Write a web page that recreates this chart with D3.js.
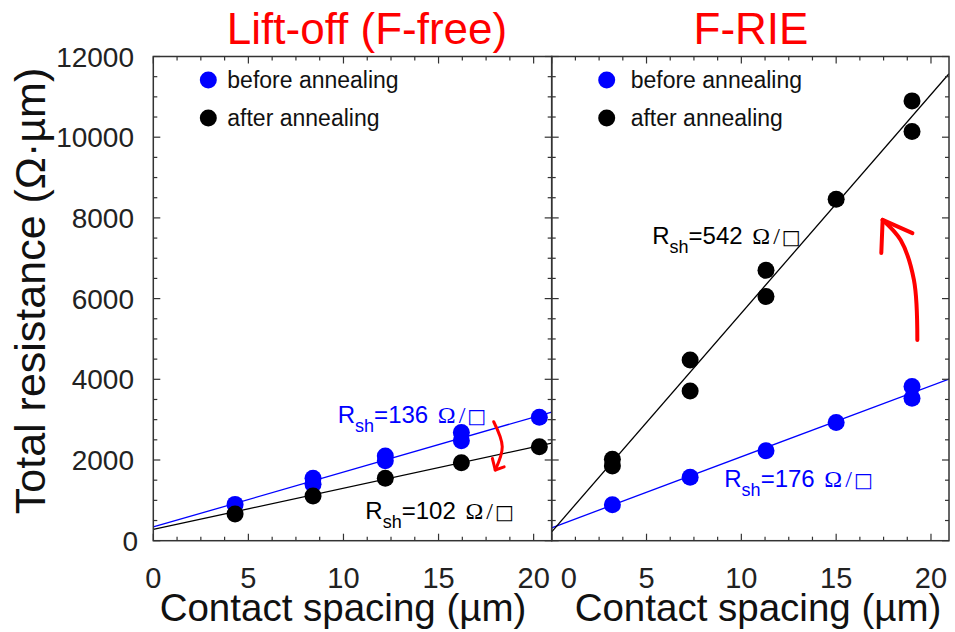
<!DOCTYPE html>
<html>
<head>
<meta charset="utf-8">
<script src="https://cdn.jsdelivr.net/npm/d3@7"></script>
<style>
  body { margin: 0; background: #fff; }
  svg { display: block; }
</style>
</head>
<body>
<svg id="chart" width="955" height="632"></svg>
<script>
// ---- Lift-off (F-free) TLM data: total resistance vs contact spacing ----
const liftBeforeSpacing = [4.3, 8.4, 8.4, 12.2, 12.2, 16.2, 16.2, 20.3];
const liftBeforeR       = [900, 1550, 1400, 2100, 1980, 2680, 2480, 3060];
const liftAfterSpacing  = [4.3, 8.4, 12.2, 16.2, 20.3];
const liftAfterR        = [660, 1110, 1550, 1930, 2330];

// ---- F-RIE TLM data ----
const rieBeforeSpacing = [3.2, 7.3, 11.3, 15.0, 19.0, 19.0];
const rieBeforeR       = [890, 1570, 2230, 2930, 3820, 3530];
const rieAfterSpacing  = [3.2, 3.2, 7.3, 7.3, 11.3, 11.3, 15.0, 19.0, 19.0];
const rieAfterR        = [2020, 1850, 4480, 3710, 6700, 6050, 8460, 10900, 10140];

// Linear fits: slope = sheet resistance (ohm/sq), intercept = 2Rc (ohm·um)
const liftSlopes     = [136, 102];
const liftIntercepts = [340, 280];
const rieSlopes      = [176, 542];
const rieIntercepts  = [320, 220];

// Axis ticks
const xMajorTicks = [0, 5, 10, 15, 20];
const yMajorTicks = [0, 2000, 4000, 6000, 8000, 10000, 12000];

const panelTitles = ["Lift-off (F-free)", "F-RIE"];
const legendLabels = ["before annealing", "after annealing"];

const BLUE = "#0000ff", BLACK = "#000000", RED = "#ff0000", FRAME = "#333333";
const FONT = "'Liberation Sans', Arial, sans-serif";

const svg = d3.select("#chart");
const plotTop = 56.5, plotBottom = 540.7;
const xMax = 20.95;
const y = d3.scaleLinear().domain([0, 12000]).range([plotBottom, plotTop]);

const panels = [
  {
    left: 153.3, right: 551.7, title: panelTitles[0], titleX: 367, xTitleX: 343,
    before: { xs: liftBeforeSpacing, ys: liftBeforeR },
    after:  { xs: liftAfterSpacing,  ys: liftAfterR },
    fits: [
      { m: liftSlopes[0], b: liftIntercepts[0], color: BLUE },
      { m: liftSlopes[1], b: liftIntercepts[1], color: BLACK }
    ],
    notes: [
      { x: 9.7, v: 2917, rsh: liftSlopes[0], color: BLUE },
      { x: 11.15, v: 530, rsh: liftSlopes[1], color: BLACK }
    ],
    arrow: { path: [[17.9, 2949], [18.35, 2330], [17.98, 1752]],
             head: [[17.83, 2040], [18.45, 1830]] },
    legendDot: 55, legendText: 74, yLabels: true, zeroShift: 0
  },
  {
    left: 551.7, right: 949, title: panelTitles[1], titleX: 751, xTitleX: 758,
    before: { xs: rieBeforeSpacing, ys: rieBeforeR },
    after:  { xs: rieAfterSpacing,  ys: rieAfterR },
    fits: [
      { m: rieSlopes[0], b: rieIntercepts[0], color: BLUE },
      { m: rieSlopes[1], b: rieIntercepts[1], color: BLACK }
    ],
    notes: [
      { x: 9.1, v: 1338, rsh: rieSlopes[0], color: BLUE },
      { x: 5.3, v: 7352, rsh: rieSlopes[1], color: BLACK }
    ],
    arrow: { path: [[19.28, 4974], [19.1, 6461], [18.4, 7450], [17.45, 7950]],
             head: [[19.02, 7621], [17.38, 7131]] },
    legendDot: 55, legendText: 79, yLabels: false, zeroShift: 17
  }
];

panels.forEach((p, i) => {
  const x = d3.scaleLinear().domain([0, xMax]).range([p.left, p.right]);
  const g = svg.append("g");
  const clipId = "clip" + i;
  svg.append("clipPath").attr("id", clipId)
    .append("rect").attr("x", p.left).attr("y", plotTop)
    .attr("width", p.right - p.left).attr("height", plotBottom - plotTop);

  // Fit lines
  const plot = g.append("g").attr("clip-path", `url(#${clipId})`);
  p.fits.forEach(f => {
    const line = d3.line().x(d => x(d)).y(d => y(f.m * d + f.b));
    plot.append("path").datum([0, xMax]).attr("d", line)
      .attr("fill", "none").attr("stroke", f.color).attr("stroke-width", 1.3);
  });

  // Data points
  const drawPoints = (set, color) => {
    plot.selectAll(null).data(d3.range(set.xs.length)).join("circle")
      .attr("cx", k => x(set.xs[k])).attr("cy", k => y(set.ys[k]))
      .attr("r", 8.5).attr("fill", color);
  };
  drawPoints(p.before, BLUE);
  drawPoints(p.after, BLACK);

  // Frame
  g.append("rect").attr("x", p.left).attr("y", plotTop)
    .attr("width", p.right - p.left).attr("height", plotBottom - plotTop)
    .attr("fill", "none").attr("stroke", FRAME).attr("stroke-width", 1.5);

  // Inward ticks on all four sides
  const xMinor = d3.range(0, xMax, 1.25);
  const yMinor = d3.range(0, 12001, 500);
  const tk = g.append("g").attr("stroke", FRAME).attr("stroke-width", 1.2);
  xMinor.forEach(v => {
    const len = (v % 5 === 0) ? 7 : 4;
    tk.append("line").attr("x1", x(v)).attr("x2", x(v)).attr("y1", plotBottom).attr("y2", plotBottom - len);
    tk.append("line").attr("x1", x(v)).attr("x2", x(v)).attr("y1", plotTop).attr("y2", plotTop + len);
  });
  yMinor.forEach(v => {
    const len = (v % 2000 === 0) ? 7 : 4;
    tk.append("line").attr("x1", p.left).attr("x2", p.left + len).attr("y1", y(v)).attr("y2", y(v));
    tk.append("line").attr("x1", p.right).attr("x2", p.right - len).attr("y1", y(v)).attr("y2", y(v));
  });

  // X tick labels
  g.selectAll(null).data(xMajorTicks).join("text")
    .attr("x", d => x(d) + (d === 0 ? p.zeroShift : 0))
    .attr("y", 588)
    .attr("text-anchor", "middle")
    .attr("font-family", FONT).attr("font-size", 29).attr("fill", "#222")
    .text(d => d);

  // Y tick labels (left panel only)
  if (p.yLabels) {
    g.selectAll(null).data(yMajorTicks).join("text")
      .attr("x", d => d === 0 ? 138 : 134).attr("y", d => y(d) + 10)
      .attr("text-anchor", "end")
      .attr("font-family", FONT).attr("font-size", 28).attr("fill", "#222")
      .text(d => d);
  }

  // X axis title
  g.append("text").attr("x", p.xTitleX).attr("y", 621)
    .attr("text-anchor", "middle").attr("font-family", FONT)
    .attr("font-size", 38.5).attr("fill", "#111")
    .text("Contact spacing (µm)");

  // Panel title
  g.append("text").attr("x", p.titleX).attr("y", 44)
    .attr("text-anchor", "middle").attr("font-family", FONT)
    .attr("font-size", 44).attr("fill", RED)
    .text(p.title);

  // Legend
  [BLUE, BLACK].forEach((c, k) => {
    const cy = 80 + k * 38;
    g.append("circle").attr("cx", p.left + p.legendDot).attr("cy", cy)
      .attr("r", 8.5).attr("fill", c);
    g.append("text").attr("x", p.left + p.legendText).attr("y", cy + 8)
      .attr("font-family", FONT).attr("font-size", 23).attr("fill", "#111")
      .text(legendLabels[k]);
  });

  // Sheet resistance annotations
  p.notes.forEach(n => {
    const t = g.append("text").attr("x", x(n.x)).attr("y", y(n.v))
      .attr("font-family", FONT).attr("font-size", 24).attr("fill", n.color);
    t.append("tspan").text("R");
    t.append("tspan").attr("font-size", 18).attr("dy", 9).text("sh");
    t.append("tspan").attr("dy", -9).text("=" + n.rsh + "\u00a0");
    t.append("tspan").attr("font-family", "'Liberation Serif', 'Times New Roman', serif").attr("dx", 3).text("Ω");
    t.append("tspan").attr("font-family", "'Liberation Serif', serif").attr("dx", 3).text("/");
    t.append("tspan").attr("font-family", "'DejaVu Sans', sans-serif").attr("font-size", 20).attr("dx", 2).text("□");
  });

  // Red arrow showing the change on annealing
  const arrowLine = d3.line().curve(d3.curveCatmullRom)
    .x(d => x(d[0])).y(d => y(d[1]));
  const tip = p.arrow.path[p.arrow.path.length - 1];
  const sw = i === 0 ? 3 : 4;
  g.append("path").datum(p.arrow.path).attr("d", arrowLine)
    .attr("fill", "none").attr("stroke", RED).attr("stroke-width", sw).attr("stroke-linecap", "round");
  g.append("path").datum([p.arrow.head[0], tip, p.arrow.head[1]])
    .attr("d", d3.line().x(d => x(d[0])).y(d => y(d[1])))
    .attr("fill", "none").attr("stroke", RED).attr("stroke-width", sw)
    .attr("stroke-linecap", "round").attr("stroke-linejoin", "round");
});

// Y axis title
svg.append("text")
  .attr("transform", "translate(45,291) rotate(-90)")
  .attr("text-anchor", "middle").attr("font-family", FONT)
  .attr("font-size", 43).attr("fill", "#111")
  .text("Total resistance (Ω·µm)");
</script>
</body>
</html>
